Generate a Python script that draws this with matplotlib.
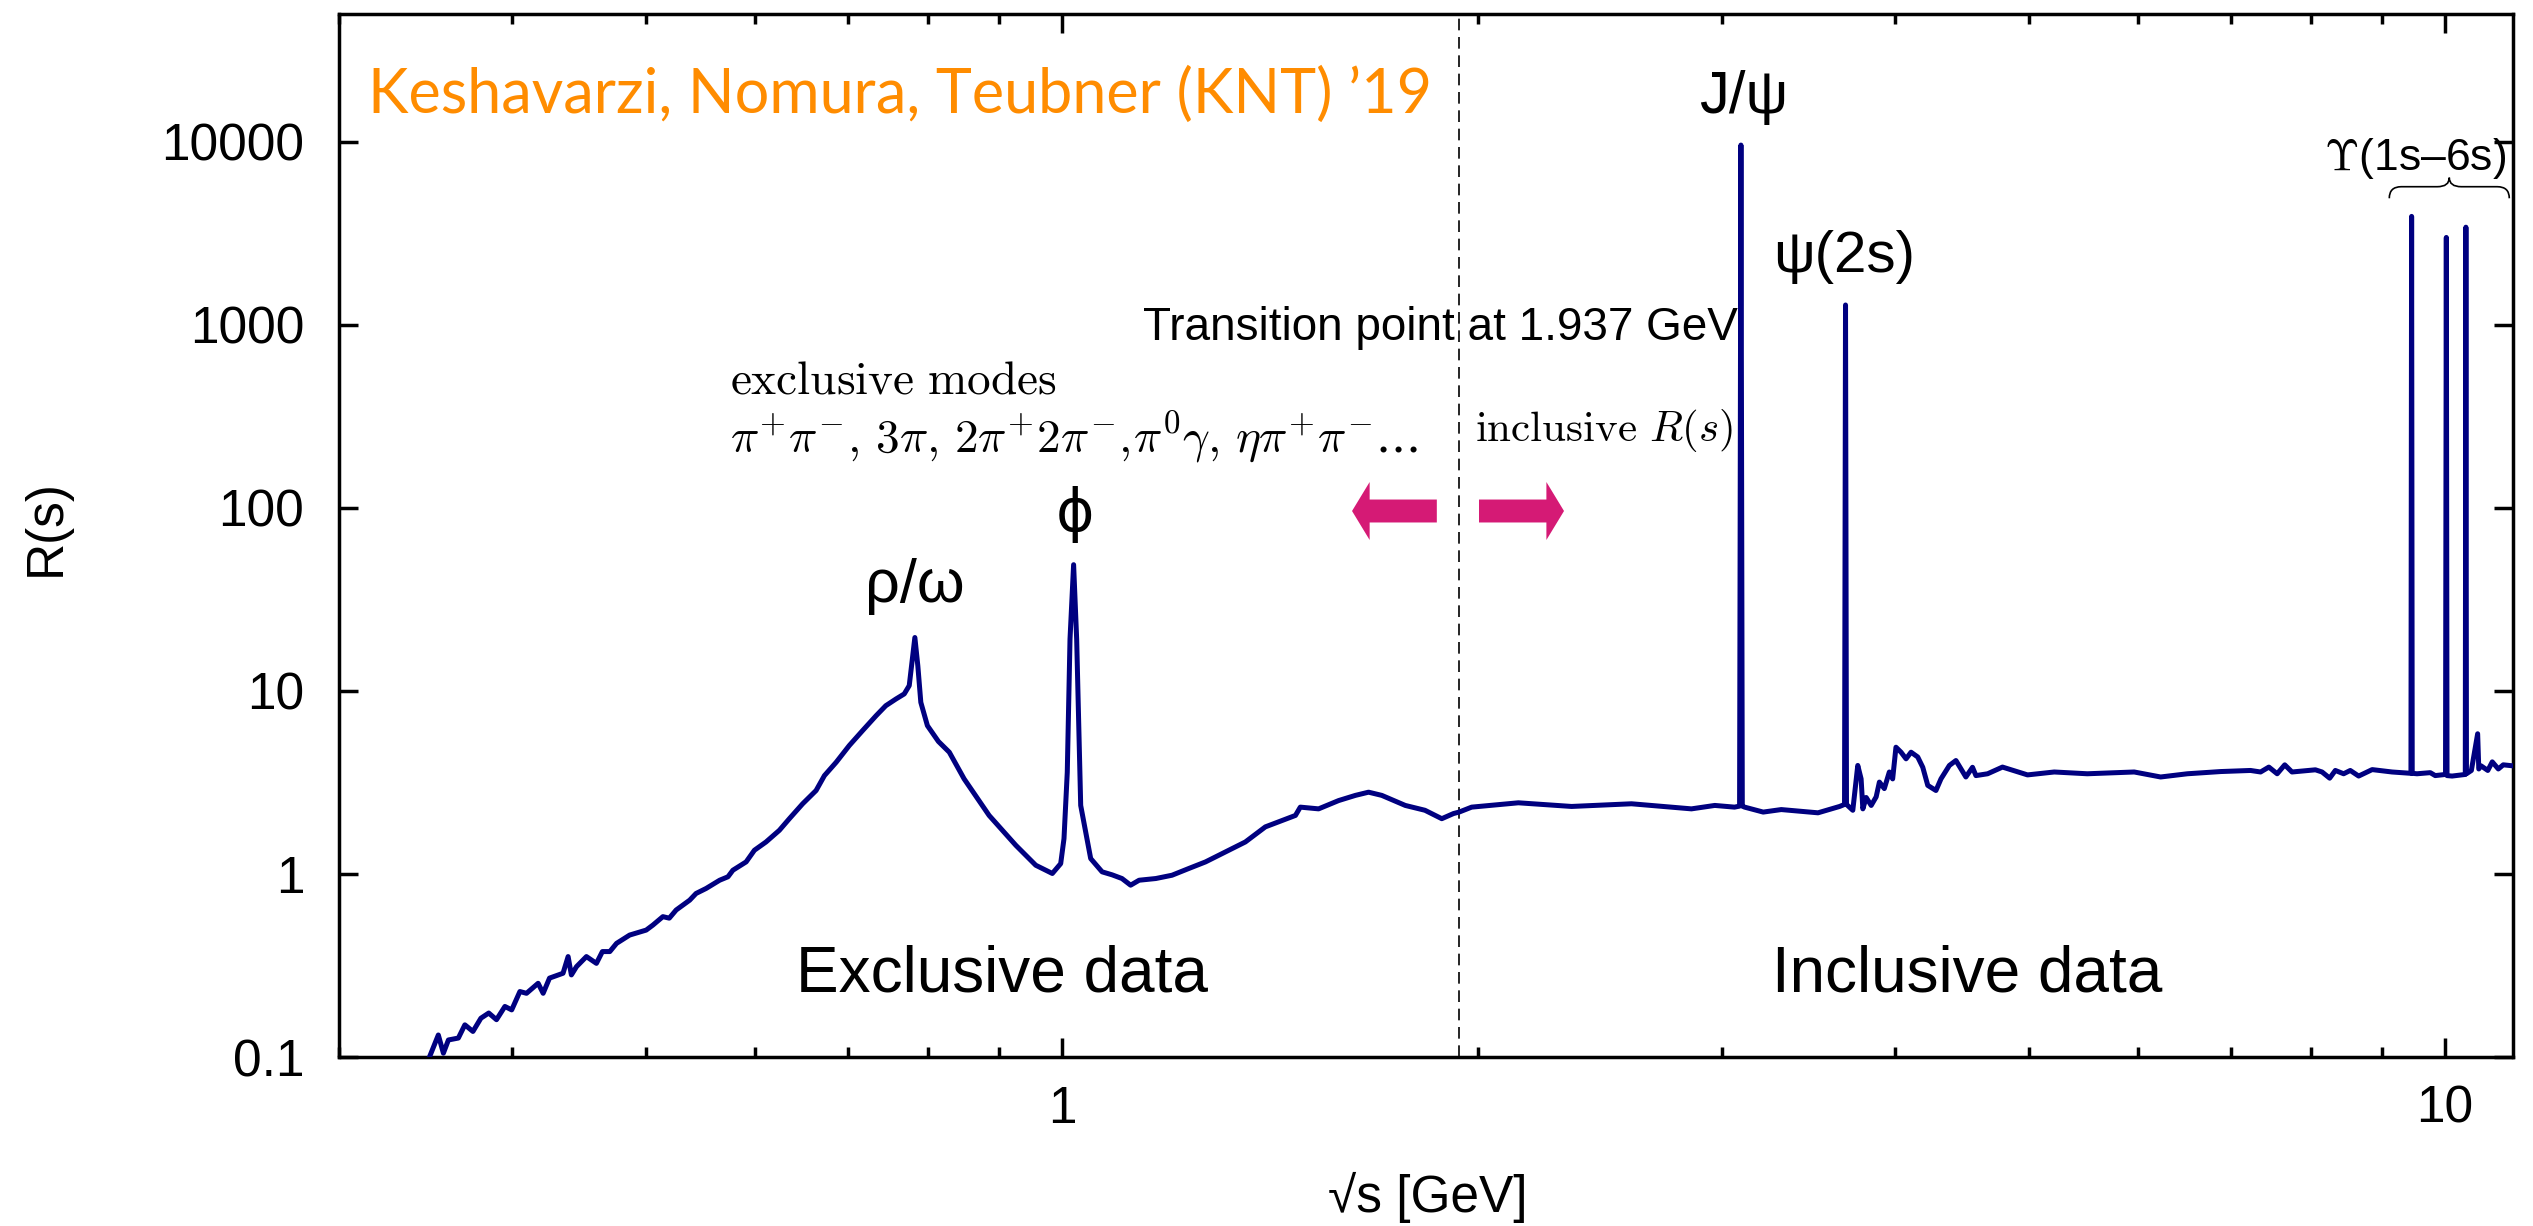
import matplotlib
matplotlib.use("Agg")
import matplotlib.pyplot as plt
from matplotlib.patches import FancyArrow, PathPatch
from matplotlib.path import Path
from matplotlib.ticker import FixedLocator, FixedFormatter, NullFormatter, NullLocator

plt.rcParams['font.family'] = ['Liberation Sans', 'DejaVu Sans']

# R(s) compilation, sqrt(s) in GeV
sqrt_s = [
    0.349, 0.354, 0.357, 0.360, 0.366, 0.370, 0.375, 0.380, 0.385, 0.390,
    0.3955, 0.400, 0.4055, 0.410, 0.418, 0.4215, 0.426, 0.4357, 0.4394, 0.4418,
    0.4456, 0.453, 0.4606, 0.4652, 0.471, 0.4763, 0.4868, 0.5004, 0.506, 0.5145,
    0.520, 0.526, 0.538, 0.5437, 0.5529, 0.5655, 0.5734, 0.5781, 0.591, 0.5992,
    0.6109, 0.6246, 0.6351, 0.6493, 0.664, 0.6733, 0.6866, 0.7018, 0.7175, 0.7338,
    0.7457, 0.7584, 0.769, 0.7754, 0.7789, 0.7827, 0.7866, 0.7905, 0.7992, 0.814,
    0.8289, 0.8496, 0.8857, 0.926, 0.9572, 0.984, 0.9978, 1.0033, 1.0088, 1.0134,
    1.0195, 1.0247, 1.0316, 1.0489, 1.069, 1.087, 1.105, 1.121, 1.137, 1.169,
    1.201, 1.235, 1.270, 1.320, 1.357, 1.403, 1.475, 1.487, 1.533, 1.585,
    1.630, 1.666, 1.703, 1.771, 1.830, 1.882, 1.919, 1.937, 1.978, 2.138,
    2.336, 2.581, 2.852, 2.965, 3.064, 3.090, 3.0969, 3.104, 3.116, 3.214,
    3.312, 3.521, 3.650, 3.680, 3.6861, 3.692, 3.731, 3.762, 3.783, 3.794,
    3.815, 3.847, 3.879, 3.900, 3.932, 3.965, 3.987, 4.009, 4.043, 4.077,
    4.111, 4.157, 4.192, 4.227, 4.285, 4.321, 4.382, 4.430, 4.504, 4.554,
    4.580, 4.670, 4.787, 4.991, 5.218, 5.513, 5.961, 6.229, 6.513, 6.885,
    7.235, 7.357, 7.459, 7.563, 7.659, 7.752, 8.060, 8.150, 8.254, 8.332,
    8.448, 8.542, 8.662, 8.859, 9.157, 9.450, 9.4603, 9.470, 9.546, 9.759,
    9.840, 10.010, 10.0233, 10.035, 10.120, 10.345, 10.3552, 10.365, 10.450, 10.560,
    10.580, 10.620, 10.740, 10.820, 10.930, 11.020, 11.200,
]
r_vals = [
    0.101, 0.132, 0.105, 0.124, 0.127, 0.150, 0.138, 0.163, 0.174, 0.160,
    0.189, 0.181, 0.228, 0.223, 0.253, 0.223, 0.270, 0.287, 0.354, 0.281,
    0.312, 0.354, 0.325, 0.377, 0.377, 0.418, 0.464, 0.494, 0.526, 0.585,
    0.574, 0.636, 0.720, 0.783, 0.834, 0.925, 0.966, 1.049, 1.165, 1.349,
    1.497, 1.733, 2.006, 2.42, 2.86, 3.45, 4.08, 5.04, 6.08, 7.33,
    8.31, 9.04, 9.64, 10.7, 14.3, 19.6, 13.7, 8.67, 6.47, 5.3,
    4.63, 3.31, 2.09, 1.435, 1.117, 1.007, 1.14, 1.56, 3.60, 19.2,
    49.0, 19.2, 2.37, 1.215, 1.028, 0.99, 0.945, 0.869, 0.925, 0.945,
    0.985, 1.072, 1.165, 1.349, 1.497, 1.81, 2.09, 2.32, 2.27, 2.52,
    2.69, 2.80, 2.69, 2.37, 2.23, 2.006, 2.14, 2.18, 2.32, 2.45,
    2.34, 2.42, 2.27, 2.37, 2.32, 2.35, 9610.0, 2.35, 2.32, 2.18,
    2.25, 2.16, 2.34, 2.4, 1285.0, 2.4, 2.23, 3.92, 3.31, 2.27,
    2.62, 2.37, 2.64, 3.18, 2.93, 3.61, 3.31, 4.93, 4.63, 4.26,
    4.63, 4.36, 3.83, 3.05, 2.86, 3.31, 3.92, 4.17, 3.39, 3.83,
    3.45, 3.53, 3.84, 3.48, 3.61, 3.53, 3.61, 3.39, 3.53, 3.63,
    3.68, 3.61, 3.84, 3.53, 3.95, 3.61, 3.71, 3.61, 3.34, 3.68,
    3.53, 3.68, 3.43, 3.72, 3.61, 3.55, 3917.0, 3.55, 3.53, 3.58,
    3.45, 3.5, 3006.0, 3.45, 3.43, 3.5, 3420.0, 3.53, 3.68, 5.84,
    3.75, 3.9, 3.68, 4.1, 3.75, 3.95, 3.9,
]

transition = 1.937

x_major = [1, 10]
x_major_labels = ["1", "10"]
x_minor = [0.3, 0.4, 0.5, 0.6, 0.7, 0.8, 0.9, 2, 3, 4, 5, 6, 7, 8, 9]
y_major = [0.1, 1, 10, 100, 1000, 10000]
y_major_labels = ["0.1", "1", "10", "100", "1000", "10000"]

line_color = "#000080"
arrow_color = "#D51A75"
knt_color = "#FF8C00"

fig = plt.figure(figsize=(25.33, 12.26), dpi=100)
ax = fig.add_axes([0.1338, 0.1378, 0.8583, 0.8508])

ax.plot(sqrt_s, r_vals, color=line_color, lw=3.6, zorder=3)
ax.axvline(transition, color="black", lw=1.2, ls=(0, (7, 4)), zorder=2)

ax.set_xscale("log")
ax.set_yscale("log")
ax.set_xlim(0.3, 11.2)
ax.set_ylim(0.1, 5e4)

ax.xaxis.set_major_locator(FixedLocator(x_major))
ax.xaxis.set_major_formatter(FixedFormatter(x_major_labels))
ax.xaxis.set_minor_locator(FixedLocator(x_minor))
ax.xaxis.set_minor_formatter(NullFormatter())
ax.yaxis.set_major_locator(FixedLocator(y_major))
ax.yaxis.set_major_formatter(FixedFormatter(y_major_labels))
ax.yaxis.set_minor_locator(NullLocator())

ax.tick_params(which="both", direction="in", top=True, right=True, width=2.5)
ax.tick_params(which="major", length=14, labelsize=37)
ax.tick_params(which="minor", length=7)
ax.tick_params(axis="x", pad=20)
ax.tick_params(axis="y", pad=25)
for sp in ax.spines.values():
    sp.set_linewidth(2.5)

ax.set_xlabel("\u221as [GeV]", fontsize=37, va="center")
ax.xaxis.set_label_coords(0.5009, -0.1342)
ax.set_ylabel("R(s)", fontsize=37, va="center")
ax.yaxis.set_label_coords(-0.1348, 0.508)

# annotations (axes fractions)
ax.text(0.0133, 0.9051, "Keshavarzi, Nomura, Teubner (KNT) \u201919",
        transform=ax.transAxes, color=knt_color, fontsize=44,
        family=["Lato", "DejaVu Sans"], ha="left", va="baseline")

ax.text(0.6463, 0.9204, "J/\u03c8", transform=ax.transAxes, fontsize=43,
        ha="center", va="center")
ax.text(0.6923, 0.7670, "\u03c8(2s)", transform=ax.transAxes, fontsize=42,
        ha="center", va="center")
ax.text(0.3385, 0.5206, "\u03d5", transform=ax.transAxes, fontsize=42,
        ha="center", va="center", family=["DejaVu Sans"])
ax.text(0.2649, 0.4516, "\u03c1/\u03c9", transform=ax.transAxes, fontsize=44,
        ha="center", va="center")
ax.text(0.9549, 0.8619, "$\\Upsilon$(1s\u20136s)", transform=ax.transAxes,
        fontsize=32, ha="center", va="center", math_fontfamily="cm")

ax.text(0.3698, 0.6874, "Transition point at 1.937 GeV", transform=ax.transAxes,
        fontsize=33, ha="left", va="baseline")
ax.text(0.1799, 0.6366, r"$\mathrm{exclusive\ modes}$", transform=ax.transAxes,
        fontsize=34, ha="left", va="baseline", math_fontfamily="cm")
ax.text(0.1799, 0.580,
        r"$\pi^{+}\pi^{-},\,3\pi,\,2\pi^{+}2\pi^{-},\!\pi^{0}\gamma,\,\eta\pi^{+}\pi^{-}$...",
        transform=ax.transAxes, fontsize=34, ha="left", va="baseline",
        math_fontfamily="cm", family=["DejaVu Serif"])
ax.text(0.5225, 0.5906, r"$\mathrm{inclusive}\ R(s)$", transform=ax.transAxes,
        fontsize=31, ha="left", va="baseline", math_fontfamily="cm")

ax.text(0.3050, 0.0633, "Exclusive data", transform=ax.transAxes, fontsize=46,
        ha="center", va="baseline")
ax.text(0.7491, 0.0633, "Inclusive data", transform=ax.transAxes, fontsize=46,
        ha="center", va="baseline")

# block arrows either side of the transition point
ax.add_patch(FancyArrow(0.505, 0.5235, -0.039, 0, width=0.022, head_width=0.0556,
                        head_length=0.0081, length_includes_head=True,
                        color=arrow_color, lw=0, transform=ax.transAxes))
ax.add_patch(FancyArrow(0.5244, 0.5235, 0.0391, 0, width=0.022, head_width=0.0556,
                        head_length=0.0081, length_includes_head=True,
                        color=arrow_color, lw=0, transform=ax.transAxes))


def brace(ax, x0, x1, y_end, y_mid, y_tip):
    xm = (x0 + x1) / 2
    d = (x1 - x0) * 0.1
    verts = [(x0, y_end), (x0, y_mid), (x0 + d, y_mid),
             (xm - d, y_mid),
             (xm, y_mid), (xm, y_tip),
             (xm, y_mid), (xm + d, y_mid),
             (x1 - d, y_mid),
             (x1, y_mid), (x1, y_end)]
    codes = [Path.MOVETO, Path.CURVE3, Path.CURVE3, Path.LINETO,
             Path.CURVE3, Path.CURVE3, Path.CURVE3, Path.CURVE3,
             Path.LINETO, Path.CURVE3, Path.CURVE3]
    ax.add_patch(PathPatch(Path(verts, codes), fc="none", ec="black", lw=1.2,
                           transform=ax.transAxes, clip_on=False))


brace(ax, 0.9431, 0.9983, 0.8233, 0.8344, 0.8431)

fig.savefig("out.png", dpi=100)
